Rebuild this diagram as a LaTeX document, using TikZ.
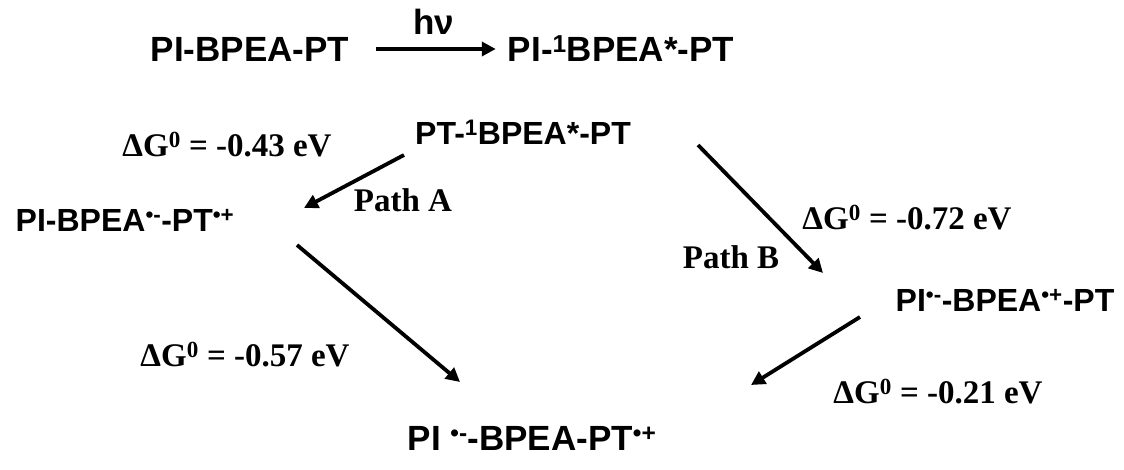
\documentclass[tikz,border=0pt]{standalone}
\usepackage{fontspec}
\usetikzlibrary{arrows.meta}
\newfontfamily\molfont{Liberation Sans}
\newfontfamily\dgfont{Liberation Serif}
\tikzset{
  mol/.style={inner sep=0pt, font=\molfont\bfseries\fontsize{32}{36}\selectfont},
  toprow/.style={inner sep=0pt, font=\molfont\bfseries\fontsize{35}{40}\selectfont},
  dg/.style={inner sep=0pt, font=\dgfont\bfseries\fontsize{33}{37}\selectfont},
  rxn/.style={line width=3.8pt, -{Triangle[length=14pt,width=14pt]}}
}
\begin{document}
\begin{tikzpicture}[x=1pt,y=-1pt]
\useasboundingbox (0,0) rectangle (1124,470);
% top row
\node[toprow] (r0) at (250,49) {PI-BPEA-PT};
\node[toprow] (r1) at (621,49) {PI-\textsuperscript{1}BPEA*-PT};
\node[toprow] (hv) at (434,22) {hν};
\coordinate (t0) at ([xshift=27pt]r0.east);
\coordinate (t1) at ([xshift=-12pt]r1.west);
\draw[rxn] (t0) -- (t1);
% states
\node[mol] (s0) at (523,132) {PT-\textsuperscript{1}BPEA*-PT};
\node[mol] (sA) at (125,220) {PI-BPEA\textsuperscript{•-}-PT\textsuperscript{•+}};
\node[mol] (sB) at (1005,300) {PI\textsuperscript{•-}-BPEA\textsuperscript{•+}-PT};
\node[toprow] (sC) at (532,438) {PI \textsuperscript{•-}-BPEA-PT\textsuperscript{•+}};
% labels
\node[dg] (gA) at (227,145) {ΔG\textsuperscript{0} = -0.43 eV};
\node[dg] (pA) at (403,200) {Path A};
\node[dg] (gA2) at (245,355) {ΔG\textsuperscript{0} = -0.57 eV};
\node[dg] (pB) at (731,257) {Path B};
\node[dg] (gB) at (907,218) {ΔG\textsuperscript{0} = -0.72 eV};
\node[dg] (gB2) at (938,392) {ΔG\textsuperscript{0} = -0.21 eV};
% arrows
\coordinate (a0) at (404,155);
\coordinate (a1) at (304,208);
\coordinate (b0) at (297,245);
\coordinate (b1) at (460,382);
\coordinate (c0) at (698,145);
\coordinate (c1) at (823,273);
\coordinate (d0) at (860,317);
\coordinate (d1) at (751,385);
\draw[rxn] (a0) -- (a1);
\draw[rxn] (b0) -- (b1);
\draw[rxn] (c0) -- (c1);
\draw[rxn] (d0) -- (d1);
\end{tikzpicture}
\end{document}
